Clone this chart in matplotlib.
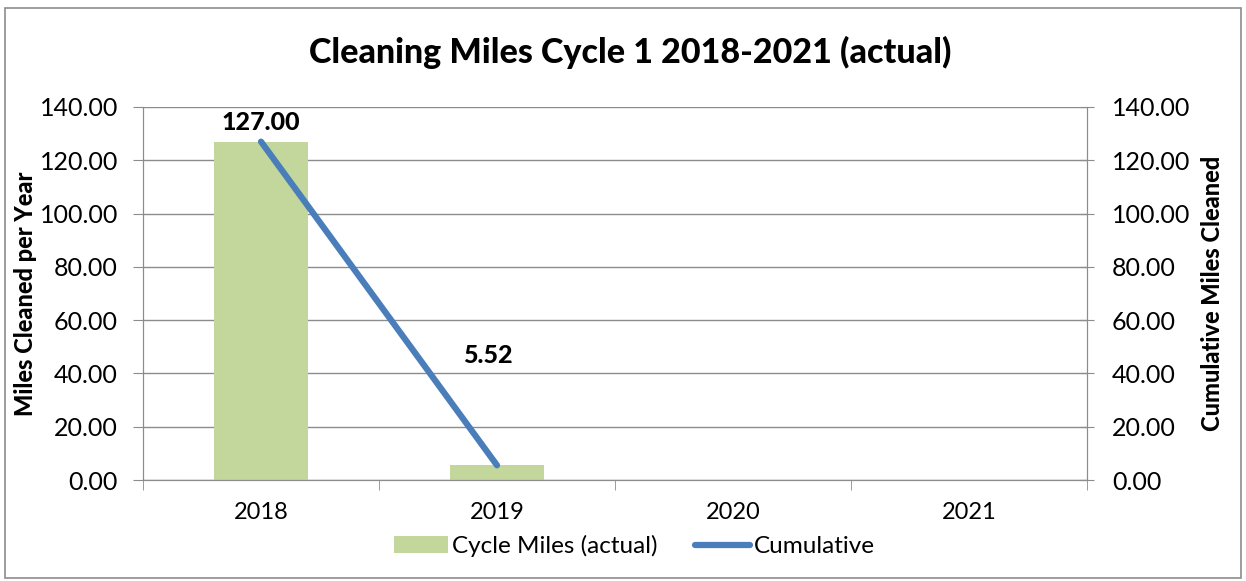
import numpy as np
import matplotlib.pyplot as plt
from matplotlib.patches import Rectangle

plt.rcParams['font.family'] = ['Lato', 'DejaVu Sans']

years = ['2018', '2019', '2020', '2021']
cycle_miles = [127.00, 5.52, 0, 0]
cumulative = [127.00, 5.52]
bar_labels = ['127.00', '5.52']

fig = plt.figure(figsize=(12.46, 5.81), dpi=100)
fig.patches.append(Rectangle((5 / 1246, 3 / 581), 1236 / 1246, 570 / 581, transform=fig.transFigure,
                             fill=False, edgecolor='#8c8c8c', linewidth=1.2))

ax = fig.add_axes([143 / 1246, 1 - 480 / 581, 944 / 1246, 373 / 581])
x = np.arange(len(years))
bars = ax.bar(x[:2], cycle_miles[:2], width=0.40, color='#c3d69b', label='Cycle Miles (actual)', zorder=2)
ax.set_xlim(-0.5, 3.5)
ax.set_ylim(0, 140)
ticks = np.arange(0, 141, 20)
ax.set_yticks(ticks)
ax.set_yticklabels([f'{v:.2f}' for v in ticks], fontsize=18)
ax.yaxis.grid(True, color='#8c8c8c', linewidth=1)
ax.set_axisbelow(True)

# x ticks: labels at centres, tick marks at category boundaries
ax.set_xticks(x)
ax.set_xticklabels(years, fontsize=17)
ax.tick_params(axis='x', length=0, pad=16)
ax.set_xticks(np.arange(-0.5, 4, 1), minor=True)
ax.tick_params(axis='x', which='minor', length=7, color='#8c8c8c', direction='out')
ax.tick_params(axis='y', length=7, color='#8c8c8c', direction='out', pad=11)
ax.spines['top'].set_visible(False)
for s in ['left', 'right', 'bottom']:
    ax.spines[s].set_color('#8c8c8c')
ax.set_ylabel('Miles Cleaned per Year', fontsize=17, fontweight='black', labelpad=2)

ax2 = ax.twinx()
line, = ax2.plot(x[:2], cumulative, color='#4a7ebb', linewidth=4.5, solid_capstyle='round', label='Cumulative')
ax2.set_ylim(0, 140)
ax2.set_yticks(ticks)
ax2.set_yticklabels([f'{v:.2f}' for v in ticks], fontsize=18)
ax2.tick_params(axis='y', length=10, color='#8c8c8c', direction='inout', pad=13)
ax2.spines['top'].set_visible(False)
for s in ['left', 'right', 'bottom']:
    ax2.spines[s].set_color('#8c8c8c')
ax2.set_ylabel('Cumulative Miles Cleaned', fontsize=17, fontweight='black', labelpad=8)

# data labels
ax.annotate(bar_labels[0], (x[0], cycle_miles[0]), xytext=(0, 8), textcoords='offset pixels',
            ha='center', va='bottom', fontsize=18, fontweight='black')
ax.annotate(bar_labels[1], (x[1], cycle_miles[1]), xytext=(-9, 110), textcoords='offset pixels',
            ha='center', va='center', fontsize=18, fontweight='black')

fig.text(630 / 1246, 1 - 52 / 581, 'Cleaning Miles Cycle 1 2018-2021 (actual)', ha='center', va='center',
         fontsize=24.5, fontweight='black')

fig.legend([bars, line], ['Cycle Miles (actual)', 'Cumulative'], loc='center', bbox_to_anchor=(634 / 1246, 1 - 546 / 581),
           ncol=2, frameon=False, fontsize=17.5, handlelength=2.25, handletextpad=0.15, columnspacing=1.55)

fig.savefig('out.png', dpi=100)
